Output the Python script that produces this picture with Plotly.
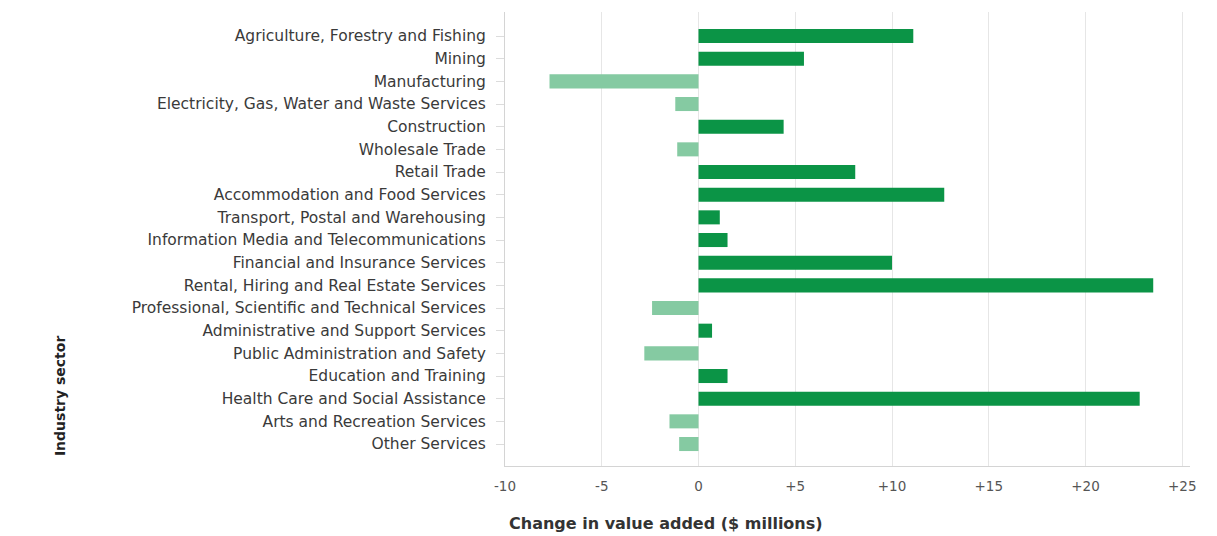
import plotly.graph_objects as go

sectors = [
    "Agriculture, Forestry and Fishing",
    "Mining",
    "Manufacturing",
    "Electricity, Gas, Water and Waste Services",
    "Construction",
    "Wholesale Trade",
    "Retail Trade",
    "Accommodation and Food Services",
    "Transport, Postal and Warehousing",
    "Information Media and Telecommunications",
    "Financial and Insurance Services",
    "Rental, Hiring and Real Estate Services",
    "Professional, Scientific and Technical Services",
    "Administrative and Support Services",
    "Public Administration and Safety",
    "Education and Training",
    "Health Care and Social Assistance",
    "Arts and Recreation Services",
    "Other Services",
]
change = [11.1, 5.45, -7.7, -1.2, 4.4, -1.1, 8.1, 12.7, 1.1, 1.5, 10.0, 23.5,
          -2.4, 0.7, -2.8, 1.5, 22.8, -1.5, -1.0]

tick_vals = [-10, -5, 0, 5, 10, 15, 20, 25]
tick_text = ["-10", "-5", "0", "+5", "+10", "+15", "+20", "+25"]

pos_color = "#0b9446"
neg_color = "#85caa2"
colors = [pos_color if v >= 0 else neg_color for v in change]

fig = go.Figure(go.Bar(
    x=change, y=sectors, orientation="h",
    marker=dict(color=colors, line=dict(width=0)),
    width=0.62,
))

font_fam = "DejaVu Sans, Liberation Sans, sans-serif"
fig.update_layout(
    width=1209, height=528,
    margin=dict(l=497, r=27, t=4, b=70),
    paper_bgcolor="white", plot_bgcolor="white",
    showlegend=False,
    font=dict(family=font_fam, size=13, color="#444"),
)
fig.update_xaxes(
    range=[-10, 25.4], tickvals=tick_vals, ticktext=tick_text,
    showgrid=True, gridcolor="#e6e6e6", gridwidth=1,
    zeroline=False, showline=True, linecolor="#d4d4d4", linewidth=1,
    ticks="", ticklabelstandoff=8, tickfont=dict(size=13.5, color="#555"),
)
fig.update_yaxes(
    type="category", categoryorder="array", categoryarray=sectors,
    range=[18.97, -1.06],
    showgrid=False, showline=True, linecolor="#d4d4d4", linewidth=1,
    ticks="outside", ticklen=8, tickcolor="#dcdcdc", ticklabelstandoff=7,
    tickfont=dict(size=15.5, color="#3a3a3a"),
)
fig.add_annotation(
    text="<b>Change in value added ($ millions)</b>",
    xref="paper", yref="paper", x=0, y=0, xshift=2, yshift=-57,
    xanchor="left", yanchor="middle", showarrow=False,
    font=dict(size=16, color="#333", family=font_fam),
)
fig.add_annotation(
    text="<b>Industry sector</b>", textangle=-90,
    xref="paper", yref="paper", x=-0.6496, y=0.154,
    xanchor="center", yanchor="middle", showarrow=False,
    font=dict(size=14, color="#222", family=font_fam),
)
fig.write_html("out.html")
